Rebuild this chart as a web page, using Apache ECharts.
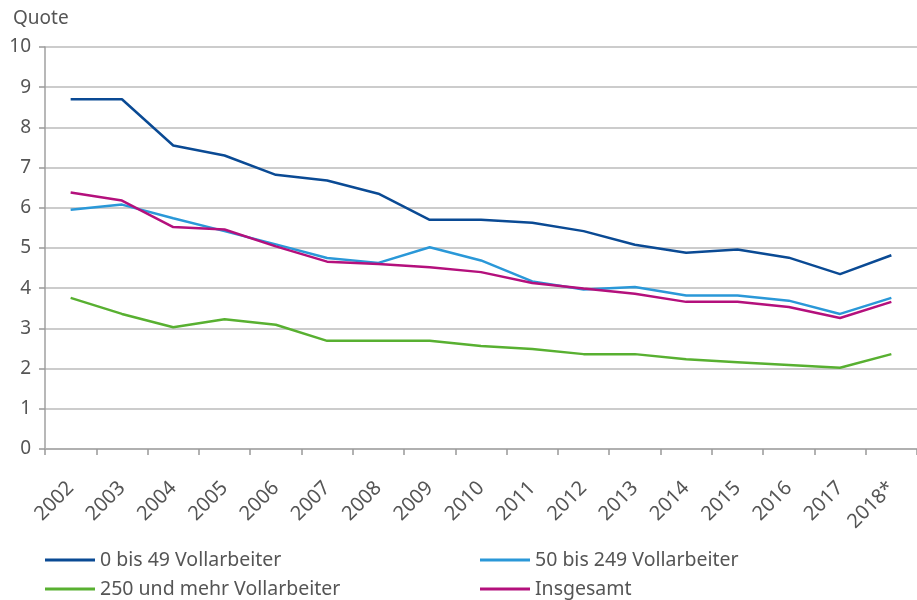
<!DOCTYPE html>
<html>
<head>
<meta charset="utf-8">
<script src="https://cdn.jsdelivr.net/npm/echarts@6/dist/echarts.min.js"></script>
<style>
  html, body { margin: 0; padding: 0; background: #fff; }
  #chart { width: 917px; height: 600px; }
</style>
</head>
<body>
<div id="chart"></div>
<script>
  var years = ['2002', '2003', '2004', '2005', '2006', '2007', '2008', '2009', '2010',
    '2011', '2012', '2013', '2014', '2015', '2016', '2017', '2018*'];
  var small = [8.7, 8.7, 7.55, 7.3, 6.82, 6.68, 6.35, 5.7, 5.7, 5.63, 5.42, 5.08, 4.88, 4.96, 4.76, 4.35, 4.82];
  var medium = [5.95, 6.08, 5.74, 5.42, 5.09, 4.75, 4.63, 5.02, 4.69, 4.17, 3.97, 4.03, 3.82, 3.82, 3.69, 3.36, 3.76];
  var large = [3.76, 3.36, 3.03, 3.23, 3.09, 2.69, 2.69, 2.69, 2.56, 2.49, 2.36, 2.36, 2.23, 2.16, 2.09, 2.02, 2.36];
  var total = [6.38, 6.18, 5.52, 5.46, 5.04, 4.66, 4.6, 4.52, 4.4, 4.13, 3.99, 3.86, 3.66, 3.66, 3.53, 3.26, 3.66];
  var yTicks = [0, 1, 2, 3, 4, 5, 6, 7, 8, 9, 10];

  var font = 'Noto Sans';
  var txt = '#555555';

  // one legend per entry so the 2x2 block sits like the original
  function legendAt(name, left, top) {
    return {
      left: left, top: top, itemWidth: 50, itemHeight: 3, icon: 'rect', itemGap: 0,
      textStyle: { fontFamily: font, fontSize: 19.5, color: txt, lineHeight: 22 },
      data: [name]
    };
  }

  var chart = echarts.init(document.getElementById('chart'));
  var option = {
    animation: false,
    title: {
      text: 'Quote',
      left: 8,
      top: 4,
      textStyle: { fontFamily: font, fontSize: 19, fontWeight: 'normal', color: txt }
    },
    grid: { left: 45, top: 47, width: 879, height: 402, containLabel: false },
    legend: [
      legendAt('0 bis 49 Vollarbeiter', 40, 544),
      legendAt('50 bis 249 Vollarbeiter', 475, 544),
      legendAt('250 und mehr Vollarbeiter', 40, 573),
      legendAt('Insgesamt', 475, 573)
    ],
    xAxis: {
      type: 'category',
      data: years,
      boundaryGap: true,
      axisLine: { lineStyle: { color: '#b0b0b0', width: 2 } },
      axisTick: { show: true, interval: 0, length: 6, lineStyle: { color: '#999', width: 1.5 } },
      axisLabel: {
        interval: 0, rotate: 45, margin: 36,
        fontFamily: font, fontSize: 20, color: txt
      }
    },
    yAxis: {
      type: 'value',
      min: yTicks[0],
      max: yTicks[yTicks.length - 1],
      interval: 1,
      axisLine: { show: true, lineStyle: { color: '#a0a0a0', width: 1.5 } },
      axisTick: { show: true, length: 6, lineStyle: { color: '#999', width: 1.5 } },
      axisLabel: { margin: 14, fontFamily: font, fontSize: 19, color: txt },
      splitLine: { lineStyle: { color: '#cccccc', width: 2 } }
    },
    series: [
      { name: '0 bis 49 Vollarbeiter', type: 'line', data: small, symbol: 'none',
        color: '#0a4a94', lineStyle: { width: 2.5 } },
      { name: '50 bis 249 Vollarbeiter', type: 'line', data: medium, symbol: 'none',
        color: '#2a98d8', lineStyle: { width: 2.5 } },
      { name: '250 und mehr Vollarbeiter', type: 'line', data: large, symbol: 'none',
        color: '#58b031', lineStyle: { width: 2.5 } },
      { name: 'Insgesamt', type: 'line', data: total, symbol: 'none',
        color: '#b4107c', lineStyle: { width: 2.5 } }
    ]
  };
  chart.setOption(option);
</script>
</body>
</html>
